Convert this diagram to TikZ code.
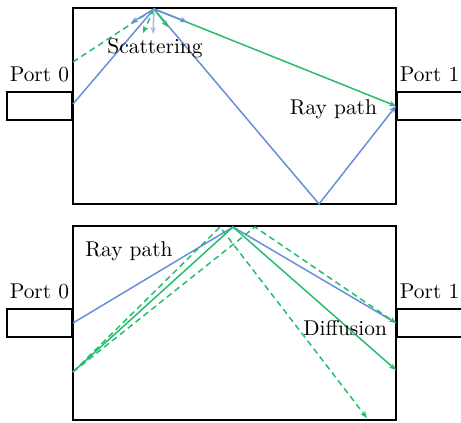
\documentclass[tikz,border=0pt]{standalone}
\usetikzlibrary{positioning, calc, arrows.meta}
\definecolor{raybl}{RGB}{104,142,222}
\definecolor{raygr}{RGB}{38,190,110}

\begin{document}
\begin{tikzpicture}[x=0.5pt, y=-0.5pt,
  every node/.style={align=center, font=\fontsize{10.7}{13}\selectfont},
  wall/.style={draw, line width=1.1pt},
  port/.style={draw, line width=1.1pt, minimum width=32.5pt, minimum height=14pt, inner sep=0pt},
  blue ray/.style={raybl, line width=0.75pt},
  green ray/.style={raygr, line width=0.75pt},
  tip/.style={-{Stealth[length=3.5pt, width=2.8pt]}}]
\useasboundingbox (0,0) rectangle (461,423);
% upper panel: scattering
\draw[wall] (73,8) rectangle (396,204);
\node[port, anchor=east] (port0) at (73,106) {};
\node[port, anchor=west] (port1) at (396,106) {};
\node[above=1pt of port0] (lbl0) {Port 0};
\node[above=1pt of port1] (lbl1) {Port 1};
\coordinate (hit) at (154,9);
\coordinate (in blue) at (73,104);
\coordinate (in green) at (73,62);
\coordinate (floor) at (319,204);
\coordinate (out) at (396,106);
\draw[blue ray, tip] (in blue) -- (hit) -- (floor) -- (out);
\draw[green ray, densely dashed] (in green) -- (hit);
\draw[green ray, tip] (hit) -- (out);
\draw[blue ray, tip] (hit) -- (131,23);
\draw[green ray, densely dashed, tip] (hit) -- (143,33);
\draw[blue ray, raybl!60, tip] (hit) -- (153,34);
\draw[green ray, tip] (hit) -- (168,27);
\draw[blue ray, tip] (hit) -- (187,22);
\node (scat) at (155,48) {Scattering};
\node[left=6pt of port1.west, yshift=-1.5pt] (path1) {Ray path};
% lower panel: diffusion
\draw[wall] (73,226) rectangle (396,420);
\node[port, anchor=east] (port2) at (73,323) {};
\node[port, anchor=west] (port3) at (396,323) {};
\node[above=1pt of port2] (lbl2) {Port 0};
\node[above=1pt of port3] (lbl3) {Port 1};
\coordinate (apex) at (233,227);
\coordinate (hit a) at (220,227);
\coordinate (hit b) at (255,227);
\coordinate (src) at (73,372);
\coordinate (in blue2) at (73,323);
\coordinate (out a) at (367,418);
\coordinate (out b) at (396,370);
\coordinate (out c) at (396,323);
\draw[blue ray] (in blue2) -- (apex) -- (out c);
\draw[green ray, densely dashed, tip] (src) -- (hit a) -- (out a);
\draw[green ray, tip] (src) -- (apex) -- (out b);
\draw[green ray, densely dashed, tip] (src) -- (hit b) -- (out c);
\node (path2) at (129,251) {Ray path};
\node[left=1pt of port3.west, yshift=-2.5pt] (diff) {Diffusion};
\end{tikzpicture}
\end{document}
